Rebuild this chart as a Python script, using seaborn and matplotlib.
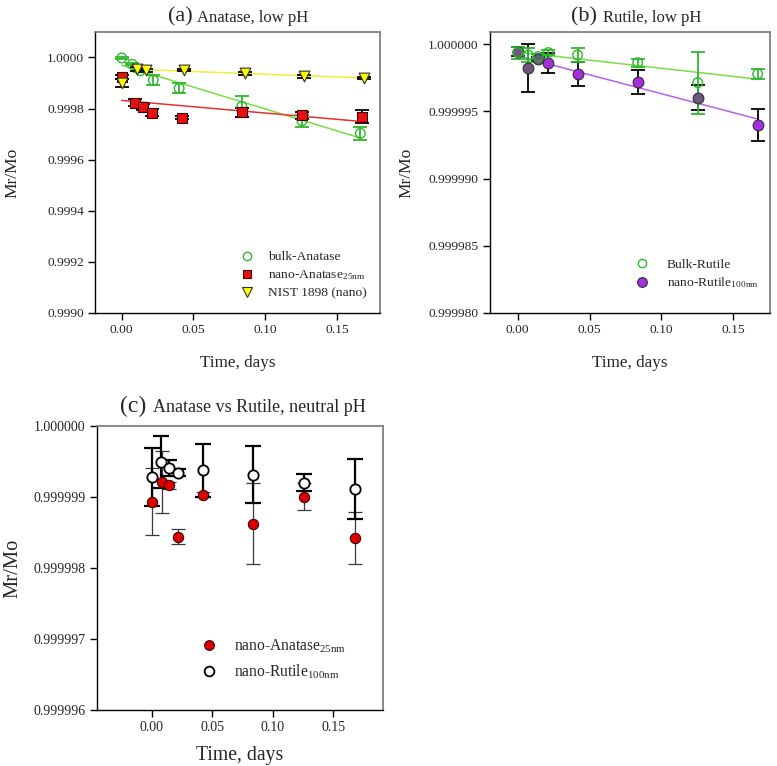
import numpy as np
import pandas as pd
import matplotlib
matplotlib.use("Agg")
import matplotlib.pyplot as plt
from matplotlib.lines import Line2D
from matplotlib.ticker import FixedLocator, FormatStrFormatter
import seaborn as sns

# ---------------- data ----------------
# (a) Anatase, low pH
t_bulk_anatase = [0.0, 0.0074, 0.0128, 0.0220, 0.0400, 0.0837, 0.1256, 0.1663]
bulk_anatase = [0.999998, 0.999973, 0.999948, 0.999911, 0.999879, 0.999808, 0.999752, 0.999703]
bulk_anatase_err = [0.000004, 0.000004, 0.000006, 0.000020, 0.000020, 0.000040, 0.000024, 0.000025]

t_nano_anatase = [0.0, 0.0093, 0.0151, 0.0209, 0.0419, 0.0837, 0.1256, 0.1672]
nano_anatase = [0.999922, 0.999823, 0.999806, 0.999784, 0.999764, 0.999785, 0.999773, 0.999768]
nano_anatase_err = [0.000008, 0.000013, 0.000010, 0.000015, 0.000006, 0.000018, 0.000013, 0.000025]

t_nist = [0.0, 0.0108, 0.0172, 0.0437, 0.0858, 0.1272, 0.1686]
nist = [0.999899, 0.999953, 0.999950, 0.999949, 0.999938, 0.999927, 0.999920]
nist_err = [0.000016, 0.000008, 0.000006, 0.000004, 0.000005, 0.000006, 0.000005]

# (b) Rutile, low pH
t_rutile_b = [0.0, 0.0074, 0.0143, 0.0213, 0.0417, 0.0835, 0.1253, 0.1670]
bulk_rutile = [0.99999938, 0.99999920, 0.99999908, 0.99999938, 0.99999920, 0.99999863, 0.99999714, 0.99999779]
bulk_rutile_err = [0.00000045, 0.00000050, 0.00000020, 0.00000020, 0.00000052, 0.00000030, 0.00000230, 0.00000037]
nano_rutile = [0.99999945, 0.99999822, 0.99999888, 0.99999859, 0.99999779, 0.99999717, 0.99999603, 0.99999398]
nano_rutile_err = [0.00000033, 0.00000180, 0.00000015, 0.00000074, 0.00000087, 0.00000090, 0.00000093, 0.00000120]
dark_points_b = [0, 1, 2, 6]   # markers drawn in a greyish purple

# (c) Anatase vs Rutile, neutral pH
t_anatase_c = [0.0, 0.0083, 0.0143, 0.0212, 0.0419, 0.0838, 0.1257, 0.1679]
anatase_c = [0.99999893, 0.99999921, 0.99999916, 0.99999844, 0.99999903, 0.99999862, 0.99999900, 0.99999842]
anatase_c_err = [0.00000047, 0.00000044, 0.00000005, 0.00000010, 0.00000004, 0.00000057, 0.00000019, 0.00000036]
t_rutile_c = [0.0, 0.0072, 0.0141, 0.0212, 0.0419, 0.0838, 0.1257, 0.1679]
rutile_c = [0.99999928, 0.99999949, 0.99999940, 0.99999934, 0.99999937, 0.99999931, 0.99999920, 0.99999911]
rutile_c_err = [0.000000405, 0.000000366, 0.00000011, 0.00000005, 0.00000037, 0.00000040, 0.00000012, 0.00000042]

x_ticks = [0.0, 0.05, 0.10, 0.15]
y_ticks_a = [0.9990, 0.9992, 0.9994, 0.9996, 0.9998, 1.0000]
y_ticks_b = [0.999980, 0.999985, 0.999990, 0.999995, 1.000000]
y_ticks_c = [0.999996, 0.999997, 0.999998, 0.999999, 1.000000]

# ---------------- style ----------------
sns.set_theme(style="ticks")
plt.rcParams['font.family'] = ['Liberation Serif', 'DejaVu Serif']
plt.rcParams['mathtext.fontset'] = 'custom'
plt.rcParams['mathtext.rm'] = 'Liberation Serif'
plt.rcParams['mathtext.it'] = 'Liberation Serif:italic'
plt.rcParams['axes.linewidth'] = 1.0

fig = plt.figure(figsize=(7.77, 7.66), dpi=100)
axA = fig.add_axes([0.1223, 0.5914, 0.3668, 0.3666])
axB = fig.add_axes([0.6306, 0.5914, 0.3604, 0.3666])
axC = fig.add_axes([0.1248, 0.0731, 0.3681, 0.3712])

GREEN_M = '#2fb82f'
GREEN_L = '#77e040'
RED = '#e81010'
RED_L = '#e83030'
YEL = '#ffff00'
YEL_L = '#eeee33'
PURP = '#a52ee0'
PURP_D = '#6e5680'
PURP_L = '#b860ee'


def style_axes(ax, xlim, ylim, yticks, yfmt, fs_tick=9.7):
    ax.set_xlim(*xlim)
    ax.set_ylim(*ylim)
    ax.xaxis.set_major_locator(FixedLocator(x_ticks))
    ax.xaxis.set_major_formatter(FormatStrFormatter('%.2f'))
    ax.yaxis.set_major_locator(FixedLocator(yticks))
    ax.yaxis.set_major_formatter(FormatStrFormatter(yfmt))
    ax.tick_params(axis='both', which='both', direction='out', length=5, width=1,
                   labelsize=fs_tick, top=False, right=False, color='black', pad=3)
    for s in ['left', 'bottom']:
        ax.spines[s].set_color('black')
        ax.spines[s].set_linewidth(1.0)
    for s in ['top', 'right']:
        ax.spines[s].set_color('#808080')
        ax.spines[s].set_linewidth(1.3)
    ax.set_facecolor('white')


def fit_line(ax, x, y, color):
    sns.regplot(x=np.asarray(x), y=np.asarray(y), ax=ax, scatter=False, ci=None,
                truncate=True, line_kws=dict(color=color, lw=1.1, zorder=2))


def title(ax, tag, text, xr, xl, yb, fs_tag, fs_text):
    ax.text(xr, yb, tag, transform=ax.transAxes, ha='right', va='baseline', fontsize=fs_tag)
    ax.text(xl, yb, text, transform=ax.transAxes, ha='left', va='baseline', fontsize=fs_text)


# ---------------- panel (a) ----------------
ax = axA
fit_line(ax, t_bulk_anatase, bulk_anatase, GREEN_L)
fit_line(ax, t_nano_anatase, nano_anatase, RED_L)
fit_line(ax, t_nist[1:], nist[1:], YEL_L)
ax.errorbar(t_bulk_anatase, bulk_anatase, yerr=bulk_anatase_err, fmt='none', ecolor=GREEN_M,
            elinewidth=1.3, capsize=5, capthick=1.3, zorder=3)
ax.errorbar(t_nano_anatase, nano_anatase, yerr=nano_anatase_err, fmt='none', ecolor='black',
            elinewidth=1.3, capsize=5, capthick=1.3, zorder=3)
ax.errorbar(t_nist, nist, yerr=nist_err, fmt='none', ecolor='black',
            elinewidth=1.3, capsize=5, capthick=1.3, zorder=3)
sns.scatterplot(x=t_bulk_anatase, y=bulk_anatase, ax=ax, marker='o', s=48,
                facecolors='none', edgecolors=GREEN_M, linewidth=1.0, zorder=4)
sns.scatterplot(x=t_nano_anatase, y=nano_anatase, ax=ax, marker='s', s=48,
                color=RED, edgecolor='#400000', linewidth=0.8, zorder=4)
sns.scatterplot(x=t_nist, y=nist, ax=ax, marker='v', s=60,
                color=YEL, edgecolor='#303030', linewidth=0.8, zorder=5)
style_axes(ax, (-0.0186, 0.180), (0.9990, 1.0000988), y_ticks_a, '%.4f')
ax.set_xlabel('Time, days', fontsize=12.3)
ax.set_ylabel('Mr/Mo', fontsize=12.5)
ax.xaxis.set_label_coords(0.5, -0.150)
ax.yaxis.set_label_coords(-0.263, 0.5)
title(ax, '(a)', 'Anatase, low pH', 0.344, 0.358, 1.0367, 16, 12)
hA = [Line2D([], [], ls='none', marker='o', ms=6, mfc='none', mec=GREEN_M, mew=1.0),
      Line2D([], [], ls='none', marker='s', ms=6, mfc=RED, mec='#400000', mew=0.8),
      Line2D([], [], ls='none', marker='v', ms=7, mfc=YEL, mec='#303030', mew=0.8)]
ax.legend(hA, ['bulk-Anatase', r'nano-Anatase$_{\mathrm{25nm}}$', 'NIST 1898 (nano)'],
          loc='upper left', bbox_to_anchor=(0.509, 0.221), frameon=False, fontsize=9.7,
          handlelength=1.0, handletextpad=1.1, labelspacing=0.37, borderpad=0, borderaxespad=0)

# ---------------- panel (b) ----------------
ax = axB
fit_line(ax, t_rutile_b, bulk_rutile, GREEN_L)
fit_line(ax, t_rutile_b, nano_rutile, PURP_L)
ax.errorbar(t_rutile_b, nano_rutile, yerr=nano_rutile_err, fmt='none', ecolor='black',
            elinewidth=1.3, capsize=5, capthick=1.3, zorder=3)
ax.errorbar(t_rutile_b, bulk_rutile, yerr=bulk_rutile_err, fmt='none', ecolor=GREEN_M,
            elinewidth=1.3, capsize=5, capthick=1.3, zorder=3)
light_idx = [i for i in range(len(t_rutile_b)) if i not in dark_points_b]
sns.scatterplot(x=[t_rutile_b[i] for i in light_idx], y=[nano_rutile[i] for i in light_idx],
                ax=ax, marker='o', s=60, color=PURP, edgecolor='#303030', linewidth=0.8, zorder=4)
sns.scatterplot(x=[t_rutile_b[i] for i in dark_points_b], y=[nano_rutile[i] for i in dark_points_b],
                ax=ax, marker='o', s=60, color=PURP_D, edgecolor='#303030', linewidth=0.8, zorder=4)
sns.scatterplot(x=t_rutile_b, y=bulk_rutile, ax=ax, marker='o', s=48,
                facecolors='none', edgecolors=GREEN_M, linewidth=1.0, zorder=5)
style_axes(ax, (-0.0193, 0.1756), (0.999980, 1.0000009), y_ticks_b, '%.6f')
ax.set_xlabel('Time, days', fontsize=12.3)
ax.set_ylabel('Mr/Mo', fontsize=12.5)
ax.xaxis.set_label_coords(0.5, -0.150)
ax.yaxis.set_label_coords(-0.268, 0.5)
title(ax, '(b)', 'Rutile, low pH', 0.382, 0.404, 1.0367, 16, 12)
hB = [Line2D([], [], ls='none', marker='o', ms=6, mfc='none', mec=GREEN_M, mew=1.0),
      Line2D([], [], ls='none', marker='o', ms=7, mfc=PURP, mec='#303030', mew=0.8)]
ax.legend(hB, ['Bulk-Rutile', r'nano-Rutile$_{\mathrm{100nm}}$'],
          loc='upper left', bbox_to_anchor=(0.518, 0.194), frameon=False, fontsize=9.7,
          handlelength=1.0, handletextpad=1.35, labelspacing=0.35, borderpad=0, borderaxespad=0)

# ---------------- panel (c) ----------------
ax = axC
ax.errorbar(t_anatase_c, anatase_c, yerr=anatase_c_err, fmt='none', ecolor='#3a3a3a',
            elinewidth=0.9, capsize=5, capthick=0.9, zorder=3)
ax.errorbar(t_rutile_c, rutile_c, yerr=rutile_c_err, fmt='none', ecolor='black',
            elinewidth=1.6, capsize=5.5, capthick=1.6, zorder=3)
sns.scatterplot(x=t_anatase_c, y=anatase_c, ax=ax, marker='o', s=55,
                color='#dd0000', edgecolor='#400000', linewidth=0.8, zorder=4)
sns.scatterplot(x=t_rutile_c, y=rutile_c, ax=ax, marker='o', s=55,
                facecolors='white', edgecolors='black', linewidth=1.3, zorder=5)
style_axes(ax, (-0.0455, 0.191), (0.999996, 1.000000), y_ticks_c, '%.6f', fs_tick=10)
ax.set_xlabel('Time, days', fontsize=14.2)
ax.set_ylabel('Mr/Mo', fontsize=14.8)
ax.xaxis.set_label_coords(0.5, -0.128)
ax.yaxis.set_label_coords(-0.262, 0.5)
title(ax, '(c)', 'Anatase vs Rutile, neutral pH', 0.174, 0.195, 1.049, 17, 13)
hC = [Line2D([], [], ls='none', marker='o', ms=7, mfc='#dd0000', mec='#400000', mew=0.8),
      Line2D([], [], ls='none', marker='o', ms=7, mfc='white', mec='black', mew=1.3)]
ax.legend(hC, [r'nano-Anatase$_{\mathrm{25nm}}$', r'nano-Rutile$_{\mathrm{100nm}}$'],
          loc='upper left', bbox_to_anchor=(0.366, 0.254), frameon=False, fontsize=11.2,
          handlelength=0.9, handletextpad=1.2, labelspacing=0.45, borderpad=0, borderaxespad=0)

fig.savefig('out.png', dpi=100, facecolor='white')
